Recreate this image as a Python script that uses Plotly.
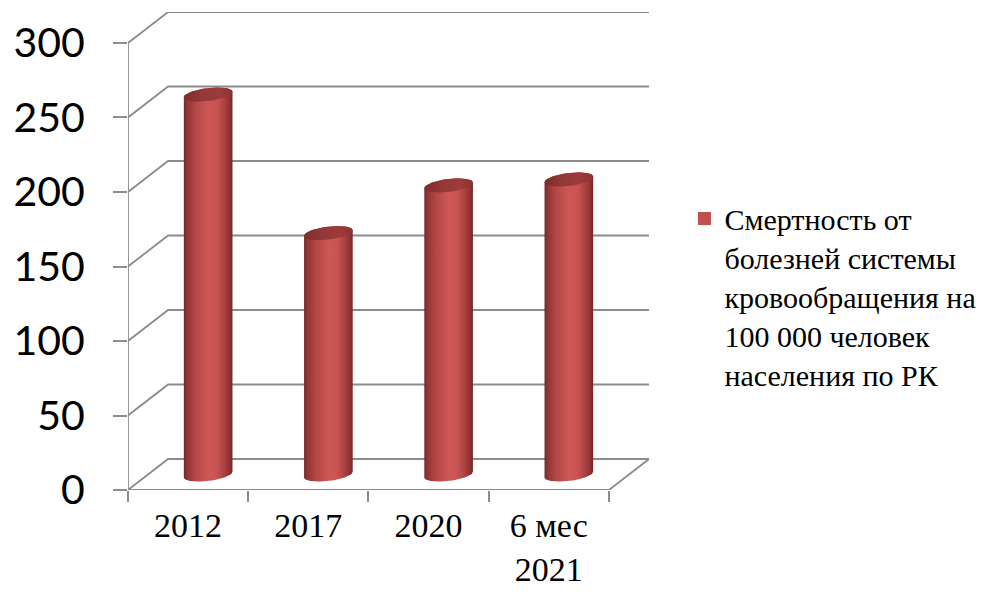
import numpy as np
import plotly.graph_objects as go

# ---- data ----
categories = ["2012", "2017", "2020", "6 мес<br>2021"]
values = [255, 162, 194, 198]
y_ticks = [0, 50, 100, 150, 200, 250, 300]
series_name = ("Смертность от<br>болезней системы<br>кровообращения на"
               "<br>100 000 человек<br>населения по РК")

# ---- 3-D box geometry (in axis units) ----
n = len(categories)
DEPTH_X = 1 / 3          # back wall offset along the category axis
DEPTH_Y = 20.8           # back wall offset along the value axis
Y_MAX = 300
X_RANGE = [0, n + DEPTH_X]
Y_RANGE = [0, Y_MAX + DEPTH_Y]

W, H = 996, 592
M_L, M_R, M_T, M_B = 128, 347, 12, 102
PX_X = (W - M_L - M_R) / (X_RANGE[1] - X_RANGE[0])   # pixels per x unit
PX_Y = (H - M_T - M_B) / (Y_RANGE[1] - Y_RANGE[0])   # pixels per y unit

GRID = "#8C8C8C"
fig = go.Figure()

# gridlines: front-left -> back-left -> back-right
gx, gy = [], []
for v in y_ticks:
    gx += [0, DEPTH_X, n + DEPTH_X, None]
    gy += [v, v + DEPTH_Y, v + DEPTH_Y, None]
# floor edges: front edge and right diagonal
gx += [0, n, n + DEPTH_X, None]
gy += [0, 0, DEPTH_Y, None]
# front value axis line
gx += [0, 0, None]
gy += [0, Y_MAX, None]
fig.add_trace(go.Scatter(x=gx, y=gy, mode="lines", line=dict(color=GRID, width=1.8),
                         hoverinfo="skip", showlegend=False))


def ellipse(cx, cy, a_px, b_px, tilt_deg, t):
    th = np.radians(tilt_deg)
    dx = a_px * np.cos(t) * np.cos(th) - b_px * np.sin(t) * np.sin(th)
    dy = a_px * np.cos(t) * np.sin(th) + b_px * np.sin(t) * np.cos(th)
    return cx + dx / PX_X, cy + dy / PX_Y


BAR_HALF_W = 24.5   # px
CAP_B = 6.5         # px
TILT = 7

body_scale = [[0.0, "#762828"], [0.07, "#923636"], [0.25, "#B44846"],
              [0.5, "#CE5755"], [0.68, "#C85452"], [0.85, "#A83F3E"],
              [0.95, "#8A3131"], [1.0, "#742727"]]
cap_scale = [[0.0, "#7E2D2D"], [0.4, "#953838"], [0.75, "#9C3B3B"], [1.0, "#8A3232"]]

for i, v in enumerate(values):
    cx = i + 0.5 + DEPTH_X / 2
    base = DEPTH_Y / 2
    top = v + DEPTH_Y / 2
    t_low = np.linspace(np.pi, 2 * np.pi, 40)
    t_up = np.linspace(0, np.pi, 40)
    bx, by = ellipse(cx, base, BAR_HALF_W, CAP_B, TILT, t_low)
    tx, ty = ellipse(cx, top, BAR_HALF_W, CAP_B, TILT, t_up)
    fig.add_trace(go.Scatter(
        x=list(bx) + list(tx), y=list(by) + list(ty), mode="lines",
        fill="toself", line=dict(width=0, color="rgba(0,0,0,0)"),
        fillgradient=dict(type="horizontal", colorscale=body_scale),
        hoverinfo="skip", showlegend=False))
    t_all = np.linspace(0, 2 * np.pi, 80)
    ex, ey = ellipse(cx, top, BAR_HALF_W, CAP_B, TILT, t_all)
    fig.add_trace(go.Scatter(
        x=ex, y=ey, mode="lines", fill="toself",
        line=dict(width=0, color="rgba(0,0,0,0)"),
        fillgradient=dict(type="horizontal", colorscale=cap_scale),
        hoverinfo="skip", showlegend=False))

# legend entry
fig.add_trace(go.Scatter(x=[None], y=[None], mode="markers", name=series_name,
                         marker=dict(symbol="square", size=13, color="#C0504D")))

fig.update_layout(
    width=W, height=H,
    margin=dict(l=M_L, r=M_R, t=M_T, b=M_B, autoexpand=False),
    paper_bgcolor="white", plot_bgcolor="white",
    showlegend=True,
    legend=dict(x=1.068, xanchor="left", y=0.405, yanchor="middle", valign="top",
                font=dict(family="Liberation Serif", size=30, color="black"),
                bgcolor="rgba(0,0,0,0)", itemclick=False, itemdoubleclick=False),
    hovermode=False,
)
fig.update_xaxes(
    range=X_RANGE, showgrid=False, zeroline=False, showline=False, automargin=False,
    tickmode="array", tickvals=[i + 0.5 for i in range(n)], ticktext=categories,
    ticks="", ticklabelstandoff=12,
    tickfont=dict(family="Liberation Serif", size=34, color="black"),
    minor=dict(tickmode="array", tickvals=list(range(n + 1)), ticks="outside",
               ticklen=11, tickcolor=GRID, tickwidth=1.8, showgrid=False),
)
fig.update_yaxes(
    range=Y_RANGE, showgrid=False, zeroline=False, showline=False, automargin=False,
    tickmode="array", tickvals=y_ticks, ticktext=[str(t) for t in y_ticks],
    ticks="outside", ticklen=14, tickcolor=GRID, tickwidth=1.8,
    ticklabelstandoff=20,
    tickfont=dict(family="Lato", size=41, color="black"),
)

fig.write_html("out.html")
